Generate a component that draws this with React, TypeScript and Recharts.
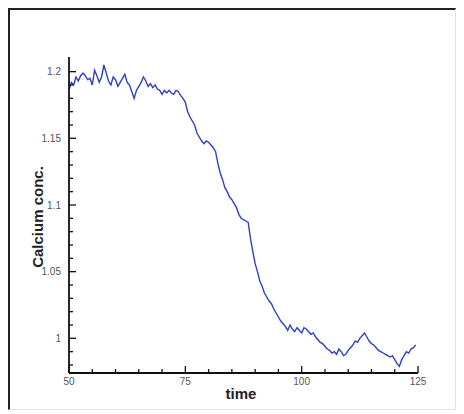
import React from 'react';
import { LineChart, Line, XAxis, YAxis } from 'recharts';

const times: number[] = [
  50, 50.5, 51, 51.5, 52, 52.5, 53, 53.5, 54, 54.5, 55, 55.5, 56, 56.5, 57, 57.5, 58, 58.5, 59, 59.5,
  60, 60.5, 61, 61.5, 62, 62.5, 63, 63.5, 64, 64.5, 65, 65.5, 66, 66.5, 67, 67.5, 68, 68.5, 69, 69.5,
  70, 70.5, 71, 71.5, 72, 72.5, 73, 73.5, 74, 74.5, 75, 75.5, 76, 76.5, 77, 77.5, 78, 78.5, 79, 79.5,
  80, 80.5, 81, 81.5, 82, 82.5, 83, 83.5, 84, 84.5, 85, 85.5, 86, 86.5, 87, 87.5, 88, 88.5, 89, 89.5,
  90, 90.5, 91, 91.5, 92, 92.5, 93, 93.5, 94, 94.5, 95, 95.5, 96, 96.5, 97, 97.5, 98, 98.5, 99, 99.5,
  100, 100.5, 101, 101.5, 102, 102.5, 103, 103.5, 104, 104.5, 105, 105.5, 106, 106.5, 107, 107.5, 108, 108.5, 109, 109.5,
  110, 110.5, 111, 111.5, 112, 112.5, 113, 113.5, 114, 114.5, 115, 115.5, 116, 116.5, 117, 117.5, 118, 118.5, 119, 119.5,
  120, 120.5, 121, 121.5, 122, 122.5, 123, 123.5, 124, 124.5,
];

const calcium: number[] = [
  1.186, 1.192, 1.190, 1.196, 1.193, 1.197, 1.199, 1.197, 1.194, 1.195, 1.190, 1.201, 1.197, 1.192, 1.196, 1.205, 1.199, 1.193, 1.190, 1.196,
  1.194, 1.189, 1.192, 1.195, 1.198, 1.192, 1.190, 1.185, 1.180, 1.186, 1.189, 1.192, 1.196, 1.193, 1.189, 1.191, 1.188, 1.190, 1.187, 1.186,
  1.183, 1.186, 1.184, 1.186, 1.184, 1.183, 1.186, 1.185, 1.182, 1.180, 1.177, 1.170, 1.166, 1.163, 1.160, 1.154, 1.151, 1.148, 1.146, 1.148,
  1.147, 1.145, 1.143, 1.140, 1.131, 1.124, 1.119, 1.113, 1.110, 1.106, 1.104, 1.101, 1.098, 1.093, 1.090, 1.089, 1.088, 1.087, 1.075, 1.065,
  1.056, 1.050, 1.043, 1.039, 1.034, 1.031, 1.028, 1.026, 1.022, 1.019, 1.016, 1.013, 1.011, 1.009, 1.006, 1.010, 1.007, 1.005, 1.008, 1.006,
  1.004, 1.008, 1.007, 1.005, 1.003, 1.004, 1.001, 0.999, 0.997, 0.996, 0.994, 0.992, 0.991, 0.989, 0.990, 0.988, 0.992, 0.990, 0.987, 0.988,
  0.991, 0.993, 0.995, 0.998, 0.997, 1.000, 1.002, 1.004, 1.001, 0.998, 0.996, 0.995, 0.993, 0.991, 0.990, 0.989, 0.988, 0.987, 0.986, 0.987,
  0.984, 0.981, 0.979, 0.984, 0.987, 0.990, 0.989, 0.992, 0.993, 0.995,
];

const xTicks: number[] = [50, 55, 60, 65, 70, 75, 80, 85, 90, 95, 100, 105, 110, 115, 120, 125];
const xMajor: number[] = [50, 75, 100, 125];
const xLabels: string[] = ['50', '75', '100', '125'];

const yTicks: number[] = [
  0.98, 0.99, 1.0, 1.01, 1.02, 1.03, 1.04, 1.05, 1.06, 1.07, 1.08, 1.09, 1.1,
  1.11, 1.12, 1.13, 1.14, 1.15, 1.16, 1.17, 1.18, 1.19, 1.2,
];
const yMajor: number[] = [1.0, 1.05, 1.1, 1.15, 1.2];
const yLabels: string[] = ['1', '1.05', '1.1', '1.15', '1.2'];

const data = times.map((t, i) => ({ time: t, conc: calcium[i] }));

const findMajor = (v: number, majors: number[]) =>
  majors.findIndex((m) => Math.abs(m - v) < 1e-6);

const XTick = (props: any) => {
  const { x, y, payload } = props;
  const idx = findMajor(payload.value, xMajor);
  const len = idx >= 0 ? 7 : 4;
  return (
    <g>
      <line x1={x} x2={x} y1={y} y2={y - len} stroke="#111" strokeWidth={1.3} />
      {idx >= 0 && (
        <text x={x} y={y + 12} textAnchor="middle" fontSize={10} fill="#555" fontFamily="Liberation Sans, Arial, sans-serif">
          {xLabels[idx]}
        </text>
      )}
    </g>
  );
};

const YTick = (props: any) => {
  const { x, y, payload } = props;
  const idx = findMajor(payload.value, yMajor);
  const len = idx >= 0 ? 7 : 4;
  return (
    <g>
      <line x1={x} x2={x + len} y1={y} y2={y} stroke="#111" strokeWidth={1.3} />
      {idx >= 0 && (
        <text x={x - 8} y={y + 3.5} textAnchor="end" fontSize={10} fill="#555" fontFamily="Liberation Sans, Arial, sans-serif">
          {yLabels[idx]}
        </text>
      )}
    </g>
  );
};

export default function App() {
  return (
    <div
      style={{
        position: 'relative',
        width: 448,
        height: 402,
        boxSizing: 'border-box',
        borderTop: '2px solid #222',
        borderLeft: '2px solid #222',
        borderRight: '1px solid #e4e4e4',
        borderBottom: '1px solid #e4e4e4',
        background: '#fff',
      }}
    >
      <div style={{ position: 'absolute', left: 0, top: 0 }}>
        <LineChart
          width={446}
          height={398}
          data={data}
          margin={{ top: 47, right: 38, bottom: 0, left: 0 }}
        >
          <XAxis
            dataKey="time"
            type="number"
            domain={[50, 125]}
            ticks={xTicks}
            interval={0}
            tickSize={0}
            tickMargin={0}
            tickLine={false}
            tick={<XTick />}
            height={35}
            axisLine={{ stroke: '#111', strokeWidth: 1.8 }}
            allowDataOverflow
            label={{
              content: () => (
                <text x={231} y={389} textAnchor="middle" fontSize={15} fontWeight="bold" fill="#222" fontFamily="Liberation Sans, Arial, sans-serif">
                  time
                </text>
              ),
            }}
          />
          <YAxis
            type="number"
            domain={[0.974, 1.211]}
            ticks={yTicks}
            interval={0}
            tickSize={0}
            tickMargin={0}
            tickLine={false}
            tick={<YTick />}
            width={59}
            axisLine={{ stroke: '#111', strokeWidth: 1.8 }}
            allowDataOverflow
            label={{
              content: () => (
                <text
                  x={33}
                  y={207}
                  transform="rotate(-90 33 207)"
                  textAnchor="middle"
                  fontSize={15}
                  fontWeight="bold"
                  fill="#222"
                  fontFamily="Liberation Sans, Arial, sans-serif"
                >
                  Calcium conc.
                </text>
              ),
            }}
          />
          <Line
            type="linear"
            dataKey="conc"
            stroke="#2f40c2"
            strokeWidth={1.4}
            dot={false}
            isAnimationActive={false}
          />
        </LineChart>
      </div>
    </div>
  );
}
